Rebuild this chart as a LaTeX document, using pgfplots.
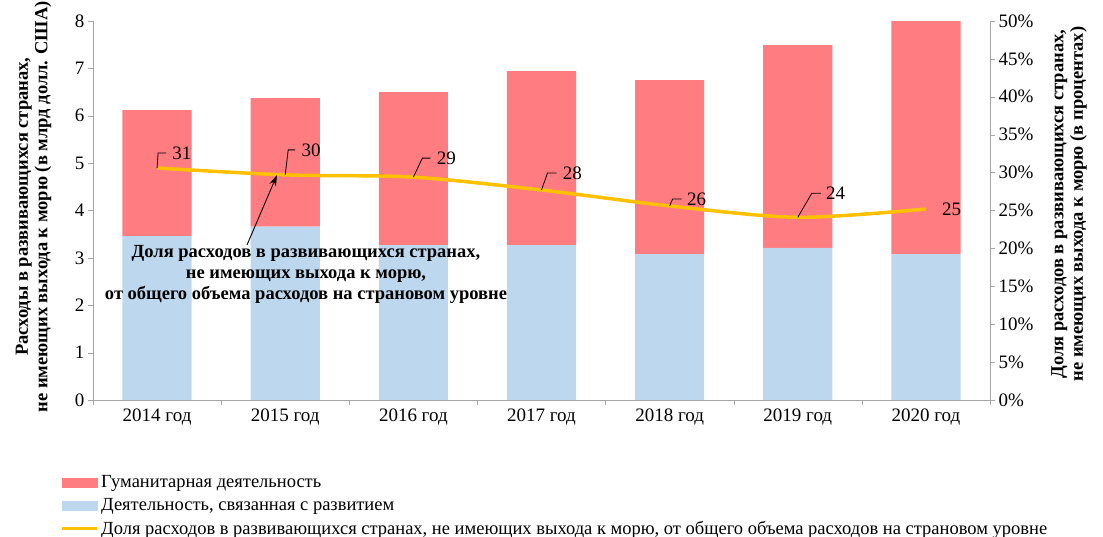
\documentclass[border=0pt]{standalone}
\usepackage{fontspec}
\setmainfont{Liberation Serif}
\usepackage{pgfplots}
\pgfplotsset{compat=1.18}
\usetikzlibrary{arrows.meta}
\definecolor{hum}{HTML}{FF7C80}
\definecolor{dev}{HTML}{BDD7EE}
\definecolor{shr}{HTML}{FFC000}
\definecolor{axg}{HTML}{A6A6A6}
\begin{document}
\begin{tikzpicture}
\useasboundingbox (-93pt,-137pt) rectangle (1010pt,400pt);
\begin{axis}[
  at={(0,0)}, anchor=south west,
  scale only axis, width=897pt, height=379pt,
  xmin=-0.5, xmax=6.5, ymin=0, ymax=8,
  axis x line*=bottom, axis y line*=left,
  axis line style={draw=axg, -},
  ybar stacked, bar width=0.54,
  xtick={0,...,6},
  xticklabels={2014 год,2015 год,2016 год,2017 год,2018 год,2019 год,2020 год},
  major x tick style={draw=none},
  minor xtick={-0.5,0.5,...,6.5},
  ytick={0,...,8}, yticklabels={0,1,2,3,4,5,6,7,8},
  tick align=outside, tick style={draw=axg},
  major tick length=5pt, minor tick length=5pt,
  ticklabel style={font=\fontsize{19}{21}\selectfont, text=black},
  ylabel={Расходы в развивающихся странах,\\не имеющих выхода к морю (в млрд долл. США)},
  ylabel style={at={(axis description cs:-0.0663,0.51)}, anchor=center, align=center, font=\fontsize{18.5}{19.5}\selectfont\bfseries},
  legend style={at={(axis description cs:-0.0368,-0.193)}, anchor=north west, draw=none, fill=none,
    font=\fontsize{18.5}{20}\selectfont, row sep=4pt, inner sep=0pt, nodes={inner sep=2.5pt}},
  legend cell align=left,
]
\addplot[fill=dev, draw=none, forget plot] coordinates {(0,3.46) (1,3.66) (2,3.27) (3,3.27) (4,3.08) (5,3.21) (6,3.08)};
\addplot[fill=hum, draw=none, forget plot] coordinates {(0,2.66) (1,2.71) (2,3.23) (3,3.67) (4,3.67) (5,4.28) (6,4.92)};
\addlegendimage{legend image code/.code={\fill[hum] (0pt,-4.5pt) rectangle (35pt,4.5pt);}}
\addlegendentry{Гуманитарная деятельность}
\addlegendimage{legend image code/.code={\fill[dev] (0pt,-4.5pt) rectangle (35pt,4.5pt);}}
\addlegendentry{Деятельность, связанная с развитием}
\addlegendimage{legend image code/.code={\draw[shr, line width=3.5pt] (0pt,0pt) -- (35pt,0pt);}}
\addlegendentry{Доля расходов в развивающихся странах, не имеющих выхода к морю, от общего объема расходов на страновом уровне}
\end{axis}
\begin{axis}[
  at={(0,0)}, anchor=south west,
  scale only axis, width=897pt, height=379pt,
  xmin=-0.5, xmax=6.5, ymin=0, ymax=50,
  axis y line*=right, axis x line=none,
  axis line style={draw=axg, -},
  ytick={0,5,...,50},
  yticklabels={0\%,5\%,10\%,15\%,20\%,25\%,30\%,35\%,40\%,45\%,50\%},
  tick align=outside, tick style={draw=axg}, major tick length=5pt,
  ticklabel style={font=\fontsize{19}{21}\selectfont, text=black},
  ylabel={Доля расходов в развивающихся странах,\\не имеющих выхода к морю (в процентах)},
  ylabel style={at={(axis description cs:1.088,0.517)}, anchor=center, align=center, font=\fontsize{18.5}{19.5}\selectfont\bfseries},
]
\addplot[shr, line width=3.5pt, smooth] coordinates {(0,30.6) (1,29.7) (2,29.4) (3,27.7) (4,25.6) (5,24.1) (6,25.2)};
\begin{scope}[every node/.style={font=\fontsize{19}{21}\selectfont, anchor=west, inner sep=0pt}]
\draw[line width=0.8pt] (axis cs:0,30.6) -- ++(1pt,15pt) -- ++(8pt,0pt) node[xshift=6pt] {31};
\draw[line width=0.8pt] (axis cs:1,29.7) -- ++(3pt,25pt) -- ++(7pt,0pt) node[xshift=6pt] {30};
\draw[line width=0.8pt] (axis cs:2,29.4) -- ++(9pt,19pt) -- ++(8pt,0pt) node[xshift=6pt] {29};
\draw[line width=0.8pt] (axis cs:3,27.7) -- ++(6pt,17pt) -- ++(9pt,0pt) node[xshift=6pt] {28};
\draw[line width=0.8pt] (axis cs:4,25.6) -- ++(3pt,7pt) -- ++(9pt,0pt) node[xshift=5pt] {26};
\draw[line width=0.8pt] (axis cs:5,24.1) -- ++(14pt,24pt) -- ++(9pt,0pt) node[xshift=5pt] {24};
\node at (axis cs:6,25.2) [xshift=16pt] {25};
\end{scope}
\end{axis}
\node[align=center, font=\fontsize{18.5}{21}\selectfont\bfseries] at (213pt,126pt)
  {Доля расходов в развивающихся странах,\\не имеющих выхода к морю,\\от общего объема расходов на страновом уровне};
\draw[line width=0.9pt, -{Stealth[length=11pt,width=7pt]}] (154pt,155pt) -- (184pt,225pt);
\end{tikzpicture}
\end{document}
